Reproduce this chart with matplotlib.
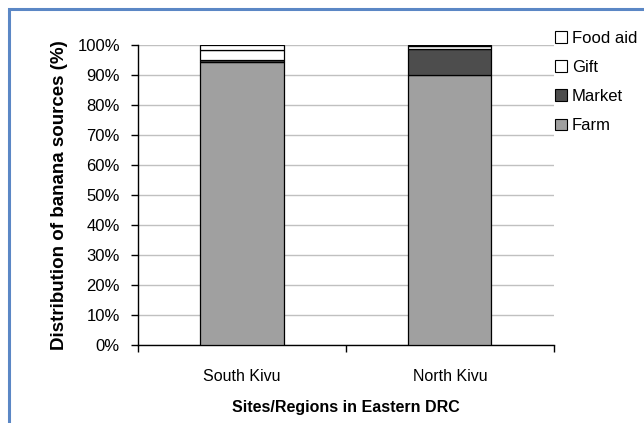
import numpy as np
import matplotlib
matplotlib.use("Agg")
import matplotlib.pyplot as plt
from matplotlib.patches import Rectangle
from matplotlib.ticker import PercentFormatter

plt.rcParams["font.family"] = ["Liberation Sans", "DejaVu Sans"]

# Data (percent of banana sources)
sites = ["South Kivu", "North Kivu"]
farm = [94.5, 90.1]
market = [0.6, 8.6]
gift = [3.1, 0.9]
food_aid = [1.8, 0.4]

series_names = ["Farm", "Market", "Gift", "Food aid"]
series_colors = ["#a0a0a0", "#4d4d4d", "#ffffff", "#ffffff"]

fig = plt.figure(figsize=(6.44, 4.23), dpi=100)
ax = fig.add_axes([0.2143, 0.1844, 0.6457, 0.7092])

x = np.arange(len(sites))
bottom = np.zeros(len(sites))
handles = []
for vals, name, col in zip([farm, market, gift, food_aid], series_names, series_colors):
    b = ax.bar(x, vals, width=0.4, bottom=bottom, color=col,
               edgecolor="black", linewidth=0.9, label=name, zorder=3)
    handles.append(b)
    bottom += np.array(vals)

ax.set_xlim(-0.5, 1.5)
ax.set_ylim(0, 100)
ax.set_yticks(np.arange(0, 101, 10))
ax.yaxis.set_major_formatter(PercentFormatter(decimals=0))
ax.yaxis.grid(True, color="#c0c0c0", linewidth=1, zorder=0)
ax.set_axisbelow(True)

# category-boundary ticks on x, labels centred under bars
ax.set_xticks([-0.5, 0.5, 1.5])
ax.set_xticklabels([])
ax.set_xticks(x, minor=True)
ax.set_xticklabels(sites, minor=True, fontsize=11.5)
ax.tick_params(axis="x", which="minor", length=0, pad=17)
ax.tick_params(axis="x", which="major", length=5, width=1)
ax.tick_params(axis="y", length=5, width=1, labelsize=12, pad=8)

for s in ["top", "right"]:
    ax.spines[s].set_visible(False)
ax.spines["left"].set_linewidth(1)
ax.spines["bottom"].set_linewidth(1)

ax.set_xlabel("Sites/Regions in Eastern DRC", fontsize=11.5, fontweight="bold", labelpad=12)
ax.set_ylabel("Distribution of banana sources (%)", fontsize=13.5, fontweight="bold", labelpad=7)

leg = ax.legend(handles[::-1], series_names[::-1], loc="upper left",
                bbox_to_anchor=(0.987, 1.07), frameon=False, fontsize=12,
                handlelength=0.7, handleheight=0.7, handletextpad=0.3,
                labelspacing=0.85, borderaxespad=0)
for h in leg.legend_handles:
    h.set_linewidth(0.8)

# blue frame around the chart area (cropped at right/bottom)
fig.patches.append(Rectangle((9 / 644, -0.1), 1.2, 1 - 9.5 / 423 + 0.1,
                             transform=fig.transFigure, fill=False,
                             edgecolor="#5b87c5", linewidth=2.2))

fig.savefig("out.png", dpi=100)
